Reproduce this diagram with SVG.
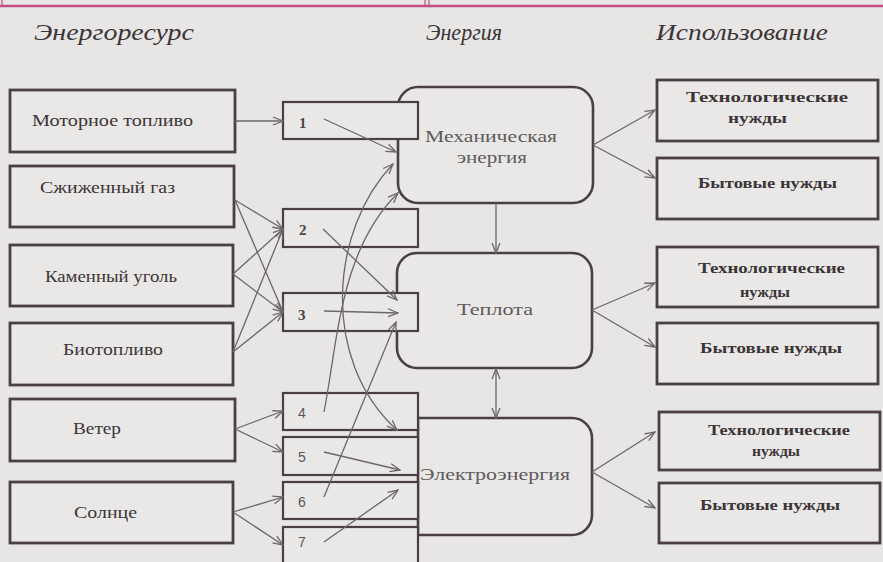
<svg xmlns="http://www.w3.org/2000/svg" width="883" height="562" viewBox="0 0 883 562">
<defs>
<marker id="ah" markerWidth="12" markerHeight="10" refX="11" refY="5" orient="auto" markerUnits="userSpaceOnUse">
<path d="M1,1 L11,5 L1,9" fill="none" stroke="#6b6768" stroke-width="1.3"/>
</marker>
<marker id="ahs" markerWidth="12" markerHeight="10" refX="1" refY="5" orient="auto" markerUnits="userSpaceOnUse">
<path d="M11,1 L1,5 L11,9" fill="none" stroke="#6b6768" stroke-width="1.3"/>
</marker>
</defs>
<style>
.bg{fill:#e7e6e4}
.box{fill:#e9e8e6;stroke:#4b3f43;stroke-width:2.8}
.nbox{fill:#e9e8e6;stroke:#4b3f43;stroke-width:2.2}
.ebox{fill:#e9e8e6;stroke:#4b3f43;stroke-width:2.6}
.c{fill:none;stroke:#6b6768;stroke-width:1.3;marker-end:url(#ah)}
.hdr{font-family:"Liberation Serif",serif;font-style:italic;font-size:23px;fill:#3c3537}
.lt{font-family:"Liberation Serif",serif;font-size:16px;fill:#3c3537}
.rt{font-family:"Liberation Serif",serif;font-size:14px;font-weight:bold;fill:#3c3537}
.et{font-family:"Liberation Serif",serif;font-size:16px;fill:#5e5a5b}
.num{font-family:"Liberation Serif",serif;font-size:15px;font-weight:bold;fill:#4a4345}
.num2{font-family:"Liberation Sans",sans-serif;font-size:14px;fill:#5a5557}
</style>
<rect class="bg" x="0" y="0" width="883" height="562"/>
<g id="topline" stroke="#c54c85" fill="none">
<line x1="0" y1="6" x2="883" y2="6" stroke-width="2.5"/>
<line x1="2" y1="0" x2="2" y2="6" stroke-width="1.2"/>
<line x1="425" y1="0" x2="425" y2="6" stroke-width="1.2"/>
<line x1="429" y1="0" x2="429" y2="6" stroke-width="1.2"/>
</g>
<g id="headers">
<text class="hdr" x="34" y="40" textLength="160" lengthAdjust="spacingAndGlyphs">Энергоресурс</text>
<text class="hdr" x="426" y="40" textLength="76" lengthAdjust="spacingAndGlyphs">Энергия</text>
<text class="hdr" x="656" y="40" textLength="172" lengthAdjust="spacingAndGlyphs">Использование</text>
</g>
<g id="energy-boxes">
<g id="mech"><rect class="ebox" x="398" y="87" width="195" height="116" rx="20"/></g>
<g id="heat"><rect class="ebox" x="397" y="253" width="195" height="115" rx="20"/></g>
<g id="elec"><path class="ebox" d="M418,418 H572 A20,20 0 0 1 592,438 V515 A20,20 0 0 1 572,535 H418 Z" stroke-linejoin="round"/></g>
</g>
<g id="left-nodes">
<g id="res-motor"><rect class="box" x="10" y="90" width="225" height="62"/><text class="lt" x="32" y="126" textLength="161" lengthAdjust="spacingAndGlyphs">Моторное топливо</text></g>
<g id="res-gas"><rect class="box" x="10" y="166" width="224" height="61"/><text class="lt" x="40" y="193" textLength="135" lengthAdjust="spacingAndGlyphs">Сжиженный газ</text></g>
<g id="res-coal"><rect class="box" x="10" y="245" width="223" height="61"/><text class="lt" x="45" y="282" textLength="132" lengthAdjust="spacingAndGlyphs">Каменный уголь</text></g>
<g id="res-bio"><rect class="box" x="10" y="323" width="223" height="62"/><text class="lt" x="63" y="355" textLength="100" lengthAdjust="spacingAndGlyphs">Биотопливо</text></g>
<g id="res-wind"><rect class="box" x="10" y="399" width="225" height="62"/><text class="lt" x="73" y="434" textLength="48" lengthAdjust="spacingAndGlyphs">Ветер</text></g>
<g id="res-sun"><rect class="box" x="10" y="482" width="223" height="61"/><text class="lt" x="74" y="518" textLength="63" lengthAdjust="spacingAndGlyphs">Солнце</text></g>
</g>
<g id="num-nodes">
<g id="n1"><rect class="nbox" x="283" y="102" width="135" height="37"/><text class="num" x="299" y="128">1</text></g>
<g id="n2"><rect class="nbox" x="283" y="209" width="135" height="38"/><text class="num" x="299" y="235">2</text></g>
<g id="n3"><rect class="nbox" x="283" y="293" width="135" height="38"/><text class="num" x="298" y="320">3</text></g>
<g id="n4"><rect class="nbox" x="283" y="393" width="135" height="37"/><text class="num2" x="298" y="418">4</text></g>
<g id="n5"><rect class="nbox" x="283" y="437" width="135" height="38"/><text class="num2" x="298" y="462">5</text></g>
<g id="n6"><rect class="nbox" x="283" y="482" width="135" height="37"/><text class="num2" x="298" y="507">6</text></g>
<g id="n7"><rect class="nbox" x="283" y="527" width="135" height="45"/><text class="num2" x="298" y="547">7</text></g>
</g>
<g id="energy-labels">
<text class="et" x="425" y="142" textLength="132" lengthAdjust="spacingAndGlyphs">Механическая</text>
<text class="et" x="457" y="163" textLength="70" lengthAdjust="spacingAndGlyphs">энергия</text>
<text class="et" x="457" y="315" textLength="76" lengthAdjust="spacingAndGlyphs">Теплота</text>
<text class="et" x="420" y="480" textLength="150" lengthAdjust="spacingAndGlyphs">Электроэнергия</text>
</g>
<g id="right-nodes">
<g id="use-tech1"><rect class="box" x="657" y="80" width="221" height="61"/><text class="rt" x="686" y="102" textLength="162" lengthAdjust="spacingAndGlyphs">Технологические</text><text class="rt" x="728" y="123" textLength="59" lengthAdjust="spacingAndGlyphs">нужды</text></g>
<g id="use-home1"><rect class="box" x="657" y="158" width="221" height="61"/><text class="rt" x="698" y="188" textLength="139" lengthAdjust="spacingAndGlyphs">Бытовые нужды</text></g>
<g id="use-tech2"><rect class="box" x="657" y="247" width="221" height="60"/><text class="rt" x="698" y="273" textLength="147" lengthAdjust="spacingAndGlyphs">Технологические</text><text class="rt" x="740" y="297" textLength="50" lengthAdjust="spacingAndGlyphs">нужды</text></g>
<g id="use-home2"><rect class="box" x="657" y="323" width="221" height="61"/><text class="rt" x="700" y="353" textLength="142" lengthAdjust="spacingAndGlyphs">Бытовые нужды</text></g>
<g id="use-tech3"><rect class="box" x="659" y="412" width="221" height="58"/><text class="rt" x="708" y="435" textLength="142" lengthAdjust="spacingAndGlyphs">Технологические</text><text class="rt" x="752" y="456" textLength="48" lengthAdjust="spacingAndGlyphs">нужды</text></g>
<g id="use-home3"><rect class="box" x="659" y="483" width="221" height="60"/><text class="rt" x="700" y="510" textLength="140" lengthAdjust="spacingAndGlyphs">Бытовые нужды</text></g>
</g>
<g id="connectors">
<line class="c" x1="235" y1="121" x2="283" y2="121"/>
<line class="c" x1="235" y1="200" x2="283" y2="229"/>
<line class="c" x1="235" y1="200" x2="283" y2="312"/>
<line class="c" x1="233" y1="274" x2="283" y2="229"/>
<line class="c" x1="233" y1="274" x2="283" y2="312"/>
<line class="c" x1="233" y1="352" x2="283" y2="229"/>
<line class="c" x1="233" y1="352" x2="283" y2="312"/>
<line class="c" x1="235" y1="429" x2="283" y2="411"/>
<line class="c" x1="235" y1="429" x2="283" y2="452"/>
<line class="c" x1="233" y1="512" x2="283" y2="497"/>
<line class="c" x1="233" y1="512" x2="283" y2="545"/>
<line class="c" x1="324" y1="119" x2="396" y2="152"/>
<line class="c" x1="323" y1="229" x2="397" y2="300"/>
<line class="c" x1="324" y1="311" x2="398" y2="313"/>
<path class="c" d="M324,412 C338,340 340,250 398,193"/>
<line class="c" x1="324" y1="497" x2="396" y2="322"/>
<path class="c" marker-start="url(#ahs)" d="M393,164 C330,230 320,360 397,430"/>
<line class="c" x1="324" y1="452" x2="400" y2="470"/>
<line class="c" x1="324" y1="542" x2="398" y2="490"/>
<line class="c" x1="496" y1="203" x2="496" y2="253"/>
<path fill="none" stroke="#6b6768" stroke-width="1.3" marker-start="url(#ahs)" marker-end="url(#ah)" d="M496,369 L496,418"/>
<line class="c" x1="593" y1="145" x2="655" y2="110"/>
<line class="c" x1="593" y1="145" x2="655" y2="178"/>
<line class="c" x1="592" y1="310" x2="655" y2="283"/>
<line class="c" x1="592" y1="310" x2="655" y2="347"/>
<line class="c" x1="592" y1="472" x2="655" y2="432"/>
<line class="c" x1="592" y1="472" x2="655" y2="508"/>
</g>
</svg>
